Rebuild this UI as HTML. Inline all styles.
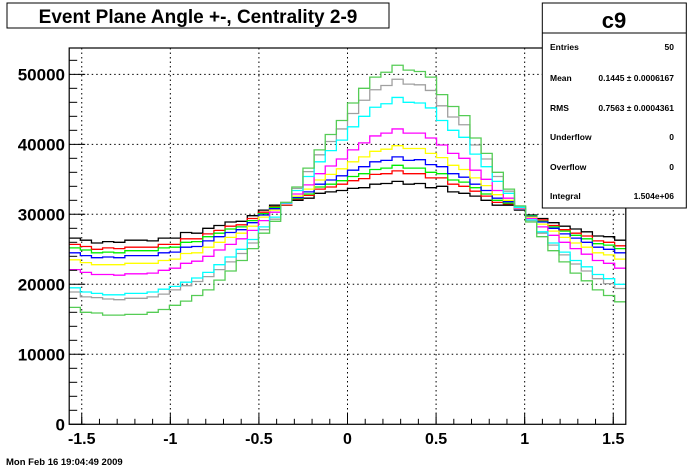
<!DOCTYPE html>
<html><head><meta charset="utf-8"><style>
html,body{margin:0;padding:0;background:#fff;}
svg{display:block;font-family:"Liberation Sans",Arial,sans-serif;}
</style></head><body>
<svg id="chart" width="696" height="472" viewBox="0 0 696 472" xmlns="http://www.w3.org/2000/svg">
<rect x="0" y="0" width="696" height="472" fill="#fff"/>
<g id="grid"></g>
<g id="series"></g>
<g id="axes"></g>
<rect x="69.2" y="48" width="556.6" height="376.3" fill="none" stroke="#000" stroke-width="1.2"/>
<g>
<rect x="7" y="3" width="382" height="25" fill="#fff" stroke="#000" stroke-width="1"/>
<text x="198" y="23" text-anchor="middle" font-size="19" font-weight="bold">Event Plane Angle +-, Centrality 2-9</text>
</g>
<g font-size="8.5" font-weight="bold">
<rect x="542.3" y="3" width="144" height="205" fill="#fff" stroke="#000" stroke-width="1"/>
<line x1="542.3" y1="33" x2="686.3" y2="33" stroke="#000" stroke-width="1"/>
<text x="614" y="28" text-anchor="middle" font-size="22">c9</text>
<text x="550" y="50">Entries</text>
<text x="674" y="50" text-anchor="end">50</text>
<text x="550" y="81">Mean</text>
<text x="674" y="81" text-anchor="end">0.1445 ± 0.0006167</text>
<text x="550" y="111">RMS</text>
<text x="674" y="111" text-anchor="end">0.7563 ± 0.0004361</text>
<text x="550" y="140">Underflow</text>
<text x="674" y="140" text-anchor="end">0</text>
<text x="550" y="170">Overflow</text>
<text x="674" y="170" text-anchor="end">0</text>
<text x="550" y="199">Integral</text>
<text x="674" y="199" text-anchor="end">1.504e+06</text>
</g>
<text x="6" y="465" font-size="9.5" font-weight="bold">Mon Feb 16 19:04:49 2009</text>
</svg>
<script>
const xTicks = [-1.5, -1, -0.5, 0, 0.5, 1, 1.5];
const xTickLabels = ["-1.5", "-1", "-0.5", "0", "0.5", "1", "1.5"];
const yTicks = [0, 10000, 20000, 30000, 40000, 50000];
const yTickLabels = ["0", "10000", "20000", "30000", "40000", "50000"];
const seriesNames = ["gray", "black", "red", "lime", "blue", "yellow", "magenta", "cyan", "darkgreen"];
const seriesColors = ["#a0a0a0", "#000000", "#ff0000", "#00ee00", "#0000ff", "#ffff00", "#ff00ff", "#00ffff", "#55cc55"];
const grayVals = [18.9,18.2,18.1,17.9,17.8,18.0,18.0,18.2,18.6,19.2,19.8,20.4,21.1,22.1,23.2,24.4,25.9,27.8,29.3,31.7,33.7,36.1,38.5,40.4,42.2,44.4,46.3,47.8,48.4,49.3,48.6,48.5,47.7,45.5,43.9,42.8,39.9,37.9,35.4,33.3,31.1,29.1,27.3,25.6,24.2,22.9,21.9,20.8,20.1,19.4];
const blackVals = [26.6,26.3,25.9,26.1,26.0,26.3,26.3,26.2,26.6,26.6,27.4,27.3,28.0,28.4,28.9,29.0,29.8,30.6,31.3,31.3,32.0,32.3,33.0,33.2,33.4,33.7,33.8,34.3,34.4,34.7,34.3,34.4,33.8,34.0,33.2,33.0,32.6,32.0,31.3,31.3,30.6,29.9,29.4,28.8,28.3,27.9,27.5,26.9,26.8,26.3];
const redVals = [25.7,25.4,25.0,25.2,25.1,25.3,25.3,25.3,25.7,25.7,26.5,26.5,27.2,27.7,28.3,28.5,29.4,30.3,31.1,31.3,32.2,32.7,33.6,33.9,34.3,34.8,35.1,35.7,35.8,36.2,35.8,35.8,35.2,35.2,34.3,34.0,33.3,32.6,31.7,31.5,30.7,29.8,29.2,28.4,27.8,27.3,26.9,26.2,26.0,25.5];
const limeVals = [25.2,24.9,24.5,24.6,24.5,24.8,24.8,24.8,25.2,25.3,26.0,26.1,26.8,27.3,27.9,28.2,29.1,30.1,31.0,31.4,32.3,32.9,33.9,34.3,34.8,35.4,35.8,36.4,36.6,37.0,36.6,36.6,36.0,35.8,34.9,34.6,33.8,32.9,32.0,31.6,30.7,29.8,29.0,28.2,27.6,27.0,26.5,25.8,25.6,25.1];
const blueVals = [24.5,24.1,23.8,23.9,23.8,24.1,24.1,24.1,24.5,24.6,25.3,25.4,26.2,26.8,27.4,27.8,28.8,29.9,30.8,31.4,32.4,33.2,34.3,34.9,35.5,36.3,36.8,37.5,37.7,38.2,37.7,37.8,37.1,36.8,35.8,35.3,34.3,33.4,32.3,31.8,30.7,29.7,28.9,28.0,27.2,26.6,26.0,25.3,25.0,24.5];
const yellowVals = [23.5,23.1,22.8,22.8,22.8,23.0,23.0,23.0,23.4,23.6,24.4,24.5,25.3,26.0,26.7,27.3,28.3,29.6,30.6,31.4,32.6,33.6,34.9,35.7,36.5,37.5,38.2,39.0,39.3,39.8,39.4,39.4,38.7,38.1,37.0,36.4,35.2,34.1,32.8,32.0,30.8,29.6,28.6,27.6,26.7,25.9,25.3,24.5,24.2,23.6];
const magentaVals = [22.1,21.7,21.4,21.4,21.3,21.5,21.5,21.6,22.0,22.3,23.0,23.3,24.0,24.9,25.7,26.5,27.7,29.1,30.3,31.5,32.9,34.2,35.8,36.9,37.9,39.2,40.2,41.2,41.6,42.2,41.6,41.6,40.9,39.9,38.7,38.0,36.3,35.0,33.4,32.3,30.9,29.4,28.2,27.0,26.0,25.1,24.3,23.4,23.0,22.3];
const cyanVals = [19.5,18.9,18.7,18.5,18.5,18.7,18.7,18.9,19.3,19.7,20.3,20.9,21.7,22.8,23.9,25.0,26.4,28.2,29.6,31.6,33.4,35.4,37.5,39.1,40.6,42.5,44.0,45.3,45.8,46.7,46.0,45.9,45.2,43.4,42.0,41.0,38.6,36.8,34.7,33.0,31.0,29.2,27.5,25.9,24.6,23.4,22.5,21.4,20.8,20.0];
const darkgreenVals = [16.7,16.0,15.9,15.6,15.6,15.7,15.7,16.0,16.4,17.0,17.6,18.4,19.2,20.6,21.9,23.4,25.1,27.3,29.0,31.7,33.9,36.6,39.2,41.4,43.4,45.9,48.0,49.6,50.3,51.3,50.6,50.4,49.6,47.1,45.4,44.1,40.9,38.7,36.0,33.6,31.2,28.9,26.8,24.8,23.2,21.6,20.5,19.2,18.4,17.5];
const allVals = [grayVals, blackVals, redVals, limeVals, blueVals, yellowVals, magentaVals, cyanVals, darkgreenVals];

const NS = "http://www.w3.org/2000/svg";
const X0 = 69.2, X1 = 625.8, Y0 = 424.3, Y1 = 48;
const XMIN = -Math.PI/2, XMAX = Math.PI/2, YMIN = 0, YMAX = 53760;
function xs(v){ return X0 + (v - XMIN) / (XMAX - XMIN) * (X1 - X0); }
function ys(v){ return Y0 - (v - YMIN) / (YMAX - YMIN) * (Y0 - Y1); }
function mk(tag, attrs, parent){ const e = document.createElementNS(NS, tag); for (const k in attrs) e.setAttribute(k, attrs[k]); parent.appendChild(e); return e; }

const grid = document.getElementById("grid");
const axes = document.getElementById("axes");
const series = document.getElementById("series");

xTicks.forEach((t, i) => {
  const g = mk("line", {x1: xs(t), x2: xs(t), y1: Y1, y2: Y0, stroke: "#000", "stroke-width": 1, "stroke-dasharray": "1.5,3"}, grid);
  
  
  const tk = mk("line", {x1: xs(t), x2: xs(t), y1: Y0, y2: Y0 - 11, stroke: "#000", "stroke-width": 1}, axes);
  
  
  const lb = mk("text", {x: xs(t), y: 444, "text-anchor": "middle", "font-size": 16, "font-weight": "bold"}, axes);
  lb.textContent = xTickLabels[i];
  
  
});
for (let v = -1.5; v <= 1.55; v += 0.1) {
  const m = mk("line", {x1: xs(v), x2: xs(v), y1: Y0, y2: Y0 - 5.5, stroke: "#000", "stroke-width": 1}, axes);
  
  
}
yTicks.forEach((t, i) => {
  if (t > 0) {
    const g = mk("line", {x1: X0, x2: X1, y1: ys(t), y2: ys(t), stroke: "#000", "stroke-width": 1, "stroke-dasharray": "1.5,3"}, grid);
    
    
  }
  const tk = mk("line", {x1: X0, x2: X0 + 16, y1: ys(t), y2: ys(t), stroke: "#000", "stroke-width": 1}, axes);
  
  
  const lb = mk("text", {x: 65, y: ys(t) + 6, "text-anchor": "end", "font-size": 17, "font-weight": "bold"}, axes);
  lb.textContent = yTickLabels[i];
  
  
});
for (let v = 2000; v < YMAX; v += 2000) {
  if (v % 10000 === 0) continue;
  const m = mk("line", {x1: X0, x2: X0 + 8, y1: ys(v), y2: ys(v), stroke: "#000", "stroke-width": 1}, axes);
  
  
}

allVals.forEach((vals, s) => {
  const n = vals.length, w = (XMAX - XMIN) / n;
  let d = "";
  vals.forEach((v, i) => {
    const xa = xs(XMIN + i * w), xb = xs(XMIN + (i + 1) * w), y = ys(v * 1000);
    d += (i === 0 ? "M" : "L") + xa.toFixed(2) + "," + y.toFixed(2) + "L" + xb.toFixed(2) + "," + y.toFixed(2);
  });
  const p = mk("path", {d: d, fill: "none", stroke: seriesColors[s], "stroke-width": 1.3}, series);
  
  
});
</script>
</body></html>
